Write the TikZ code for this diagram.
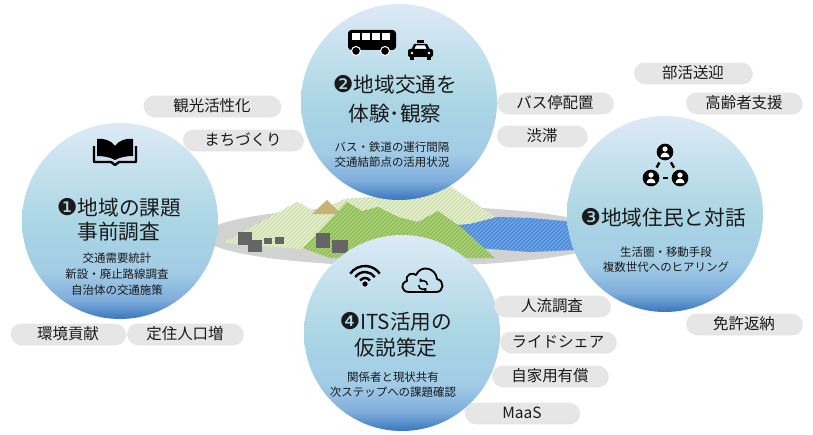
\documentclass[tikz,border=0pt]{standalone}
\usepackage{fontspec}
\setmainfont{Noto Sans CJK JP}
\newfontfamily\numfont[Scale=1.12]{DejaVu Sans}
\usetikzlibrary{shapes.misc,shadows,arrows.meta,patterns}

\definecolor{ink}{HTML}{1A1A1A}
\definecolor{tagfill}{HTML}{E6E6E6}
\definecolor{btop}{HTML}{DDEAF6}
\definecolor{bmid}{HTML}{ABD6E4}
\definecolor{blow}{HTML}{A2CCE6}
\definecolor{bedge}{HTML}{7FAEDC}
\definecolor{bdark}{HTML}{3A77BD}
\definecolor{land}{HTML}{D2D2D2}
\definecolor{hill}{HTML}{E2F1C6}
\definecolor{forest}{HTML}{8FC24F}
\definecolor{soil}{HTML}{C8B274}
\definecolor{lake}{HTML}{4B8FE2}
\definecolor{house}{HTML}{656565}

% light blue top, darker blue rim at the bottom
\pgfdeclareverticalshading{bubble}{100bp}{color(0bp)=(bdark); color(25bp)=(bdark); color(30bp)=(bedge); color(37bp)=(blow); color(50bp)=(bmid); color(75bp)=(btop); color(100bp)=(btop)}

\begin{document}
\begin{tikzpicture}[x=0.75pt, y=-0.75pt,
  bubble/.style={circle, minimum size=147pt, inner sep=0pt, shading=bubble},
  headline/.style={align=center, text=ink, inner sep=0pt, font=\fontsize{15.5}{18}\selectfont},
  detail/.style={align=center, text=ink, inner sep=0pt, font=\fontsize{8.6}{11.6}\selectfont},
  tag/.style={rounded rectangle, fill=tagfill, minimum height=15.5pt, minimum width=87pt, inner sep=0pt,
    text=ink, font=\fontsize{11.6}{13}\selectfont,
    drop shadow={shadow xshift=0.6pt, shadow yshift=-0.7pt, opacity=0.3, fill=black!35}},
  person/.style={circle, fill=black, minimum size=12.5pt, inner sep=0pt},
  crayon/.style={pattern=north east lines, pattern color=#1}]
\useasboundingbox (0,0) rectangle (813,435);
\fill[white] (0,0) rectangle (813,435);

% landscape in the middle
\fill[land] (408,236) ellipse [x radius=205, y radius=30];
\fill[hill] (223,243) -- (297,202) -- (316,212) -- (345,199) -- (380,196) -- (450,186) -- (503,222) -- (480,236) -- (300,249) -- cycle;
\fill[crayon=hill!85!black] (223,243) -- (297,202) -- (316,212) -- (345,199) -- (380,196) -- (450,186) -- (503,222) -- (480,236) -- (300,249) -- cycle;
\fill[soil] (312,214) -- (327,200) -- (341,214) -- cycle;
\fill[lake] (418,233) -- (445,226) -- (470,224) -- (497,217) -- (530,218) -- (575,222) -- (575,250) -- (530,252) -- (478,248) -- cycle;
\fill[crayon=lake!65!white] (418,233) -- (445,226) -- (470,224) -- (497,217) -- (530,218) -- (575,222) -- (575,250) -- (530,252) -- (478,248) -- cycle;
\fill[forest] (303,248) -- (347,202) -- (362,211) -- (378,207) -- (398,217) -- (418,222) -- (438,211) -- (462,228) -- (495,258) -- (330,258) -- cycle;
\fill[crayon=forest!55!white] (303,248) -- (347,202) -- (362,211) -- (378,207) -- (398,217) -- (418,222) -- (438,211) -- (462,228) -- (495,258) -- (330,258) -- cycle;
\fill[house] (238,232) rectangle (252,245);
\fill[house] (248,240) rectangle (262,252);
\fill[house] (264,238) rectangle (272,244);
\fill[house] (275,237) rectangle (284,244);
\fill[house] (316,233) rectangle (330,248);
\fill[house] (332,240) rectangle (348,253);

% the four steps
\node[bubble] (c1) at (120,221) {};
\node[bubble] (c2) at (399,102) {};
\node[bubble] (c3) at (665,214) {};
\node[bubble] (c4) at (402,333) {};

\node[headline] (h1) at (119,220) {{\numfont ❶}地域の課題\\事前調査};
\node[detail] (d1) at (117,274) {交通需要統計\\[0.4pt]新設・廃止路線調査\\[0.4pt]自治体の交通施策};

\node[headline] (h2) at (395,99) {{\numfont ❷}地域交通を\\[4pt]体験･観察};
\node[detail] (d2) at (392,154.5) {バス・鉄道の運行間隔\\交通結節点の活用状況};

\node[headline] (h3) at (663,218) {{\numfont ❸}地域住民と対話};
\node[detail] (d3) at (666,259.5) {生活圏・移動手段\\複数世代へのヒアリング};

\node[headline] (h4) at (396,335) {{\numfont ❹}ITS活用の\\[1.5pt]仮説策定};
\node[detail] (d4) at (393,384.5) {関係者と現状共有\\次ステップへの課題確認};

% book
\fill (115,160) -- (115,146) .. controls (111,140) and (103,138) .. (97,139) -- (97,156) .. controls (103,156) and (110,157) .. (115,160) -- cycle;
\fill (115,160) -- (115,146) .. controls (119,140) and (127,138) .. (133,139) -- (133,156) .. controls (127,156) and (120,157) .. (115,160) -- cycle;
\draw[line width=1.8pt, line join=round] (94,146) -- (94,162) -- (111,162) -- (115,165) -- (119,162) -- (136,162) -- (136,146);

% bus and taxi
\fill[rounded corners=2.5] (348,30) rectangle (396,50);
\fill[white] (352,33) rectangle (360,40);
\fill[white] (362,33) rectangle (370,40);
\fill[white] (372,33) rectangle (380,40);
\fill[white] (382,33) rectangle (390,40);
\filldraw[fill=black, draw=white, line width=0.8pt] (356,51) circle (4.5);
\filldraw[fill=black, draw=white, line width=0.8pt] (385,51) circle (4.5);
\fill (417,40) rectangle (424,43);
\fill (411,50) -- (414,44) -- (427,44) -- (430,50) -- cycle;
\fill[white] (414.5,49) -- (416,45.5) -- (425,45.5) -- (426.5,49) -- cycle;
\fill[rounded corners=1.5] (408,49) rectangle (433,57);
\fill[white] (412,53) circle (1.4);
\fill[white] (429,53) circle (1.4);
\fill (410,56) rectangle (414,60);
\fill (427,56) rectangle (431,60);

% residents
\node[person] (p1) at (665,152) {};
\node[person] (p2) at (651,178) {};
\node[person] (p3) at (680,178) {};
\draw[line width=1.8pt, shorten <=2.5pt, shorten >=2.5pt] (p1) -- (p2);
\draw[line width=1.8pt, shorten <=2.5pt, shorten >=2.5pt] (p1) -- (p3);
\draw[line width=1.8pt, shorten <=2.5pt, shorten >=2.5pt] (p2) -- (p3);
\fill[white] ([shift={(0,-3)}]p1.center) circle (2.6);
\fill[white] ([shift={(-4.5,5)}]p1.center) arc[start angle=180, end angle=360, radius=4.5];
\fill[white] ([shift={(0,-3)}]p2.center) circle (2.6);
\fill[white] ([shift={(-4.5,5)}]p2.center) arc[start angle=180, end angle=360, radius=4.5];
\fill[white] ([shift={(0,-3)}]p3.center) circle (2.6);
\fill[white] ([shift={(-4.5,5)}]p3.center) arc[start angle=180, end angle=360, radius=4.5];

% wifi and cloud
\fill (365,284) circle (2.6);
\draw[line width=1.8pt] (360.09,280.56) arc[start angle=215, end angle=325, radius=6];
\draw[line width=1.8pt] (355.17,277.11) arc[start angle=215, end angle=325, radius=12];
\draw[line width=1.8pt] (350.26,273.67) arc[start angle=215, end angle=325, radius=18];
\draw[line width=1.4pt, line join=round] (409,292) -- (436,292) .. controls (444,292) and (445,281) .. (437,279) .. controls (436,268) and (421,264) .. (416,275) .. controls (413,272) and (405,274) .. (407,281) .. controls (400,283) and (401,292) .. (409,292) -- cycle;
\draw[line width=1.1pt, -{Triangle[length=2.4pt, width=3.4pt]}] (427.5,285) arc[start angle=0, end angle=-140, radius=4.5];
\draw[line width=1.1pt, -{Triangle[length=2.4pt, width=3.4pt]}] (418.5,285) arc[start angle=180, end angle=40, radius=4.5];

% keywords
\node[tag, minimum width=102.75pt] (t1) at (212,106) {観光活性化};
\node[tag, minimum width=90pt] (t2) at (243,140) {まちづくり};
\node[tag, minimum width=86pt] (t3) at (68,334) {環境貢献};
\node[tag] (t4) at (185,334) {定住人口増};
\node[tag] (t5) at (555,103) {バス停配置};
\node[tag, minimum width=67.5pt] (t6) at (542,136) {渋滞};
\node[tag, minimum width=88.5pt] (t7) at (693,73) {部活送迎};
\node[tag] (t8) at (744,103) {高齢者支援};
\node[tag] (t9) at (552,306) {人流調査};
\node[tag] (t10) at (558,342) {ライドシェア};
\node[tag] (t11) at (550,376) {自家用有償};
\node[tag, minimum width=86pt] (t12) at (522,413) {MaaS};
\node[tag] (t13) at (744,324) {免許返納};
\end{tikzpicture}
\end{document}
